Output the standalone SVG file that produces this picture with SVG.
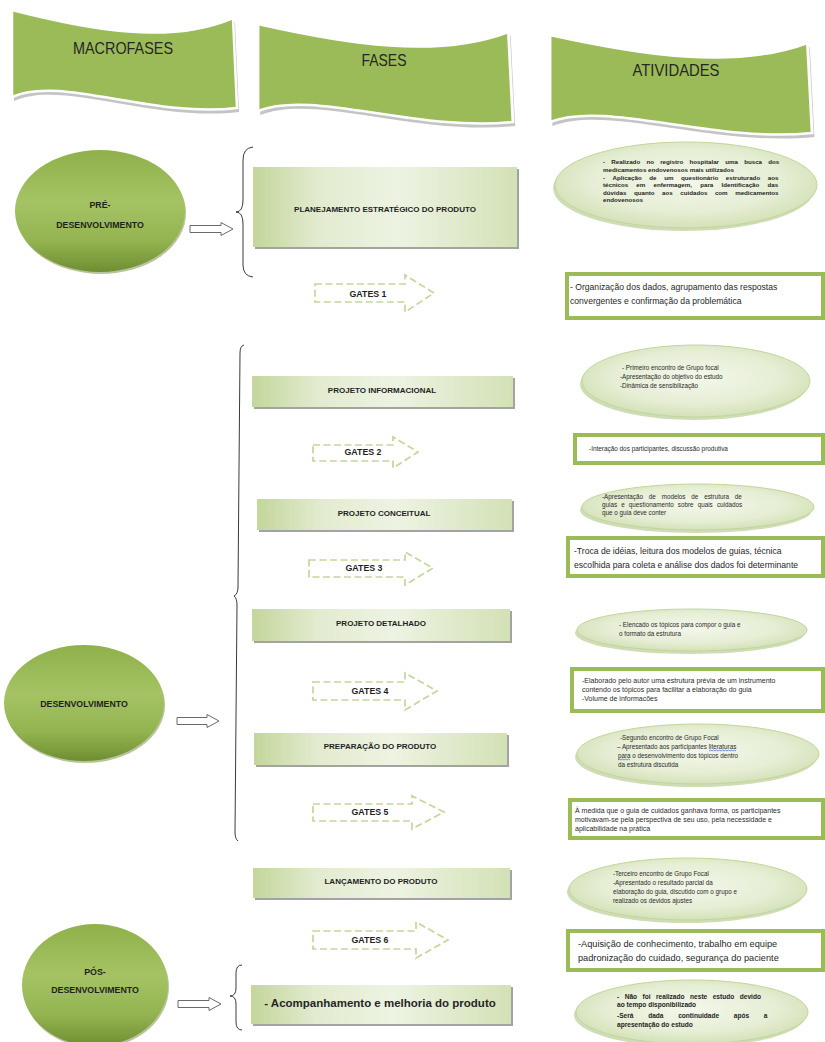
<svg xmlns="http://www.w3.org/2000/svg" xmlns:xlink="http://www.w3.org/1999/xlink" width="825" height="1042" viewBox="0 0 825 1042">
<style>
.t{font-family:"Liberation Sans",Arial,sans-serif;fill:#1f1f1f}
.hd{font-size:16.5px;text-anchor:middle;dominant-baseline:central;fill:#262626}
.ph{font-size:8px;font-weight:bold;text-anchor:middle;dominant-baseline:central}
.gt{font-size:8.8px;font-weight:bold;text-anchor:middle;dominant-baseline:central}
.mc{font-size:8.8px;font-weight:bold;text-anchor:middle;dominant-baseline:central}
.sm{font-size:6.3px;fill:#2a2a2a}
.smb{font-size:6.2px;font-weight:bold}
.smb2{font-size:6.6px;font-weight:bold}
.r1{font-size:8.6px}
.r2{font-size:6.4px;fill:#2a2a2a}
.r4{font-size:7px;fill:#2a2a2a}
.r6{font-size:9.2px}
.big{font-size:11.5px;font-weight:bold;text-anchor:middle;dominant-baseline:central;fill:#262626}
.wave{fill:#9bbb59;stroke:#ffffff;stroke-width:2.5}
.waves{fill:#c4c4c4}
.pb{fill:url(#gPhase)}
.pbs{fill:#a3a3a3}
.gate{fill:#ffffff;stroke:#c3d69b;stroke-width:1.7;stroke-dasharray:7 3.5}
.ar{fill:#ffffff;stroke:#9bbb59;stroke-width:4}
.ae{fill:url(#gAct);stroke:#c2d69a;stroke-width:1}
.aes{fill:#a8c17a;opacity:.55}
.me{fill:url(#gMacro)}
.mes{fill:#5f7c27;opacity:.45}
.ba{fill:#ffffff;stroke:#595959;stroke-width:0.9}
.br{fill:none;stroke:#3a3a3a;stroke-width:1}
.sp{fill:none;stroke:#3b5bdb;stroke-width:0.7}
</style>
<defs>
<path id="wave" d="M0,0 C78,20 158,35 221,8 L225,98 C138,108 48,65 0,87 Z"/>
<linearGradient id="gPhase" x1="0" y1="0" x2="1" y2="0">
<stop offset="0" stop-color="#c3d69b"/>
<stop offset="0.25" stop-color="#e2ebcf"/>
<stop offset="0.55" stop-color="#edf3e2"/>
<stop offset="1" stop-color="#d3e1b6"/>
</linearGradient>
<linearGradient id="gMacro" x1="0" y1="0" x2="0" y2="1">
<stop offset="0" stop-color="#8fb04a"/>
<stop offset="0.42" stop-color="#a5c364"/>
<stop offset="0.75" stop-color="#93b350"/>
<stop offset="1" stop-color="#6e8e32"/>
</linearGradient>
<radialGradient id="gAct" cx="0.5" cy="0.45" r="0.6">
<stop offset="0" stop-color="#f3f7ea"/>
<stop offset="0.6" stop-color="#e6eed5"/>
<stop offset="1" stop-color="#cfdeb0"/>
</radialGradient>
</defs>
<rect width="825" height="1042" fill="#ffffff"/>

<!-- headers -->
<g id="hdr-macrofases">
<g transform="translate(12,10)"><use xlink:href="#wave" class="waves" transform="translate(2,4)"/><use xlink:href="#wave" class="wave"/></g>
<text class="t hd" x="123" y="48" textLength="100" lengthAdjust="spacingAndGlyphs">MACROFASES</text>
</g>
<g id="hdr-fases">
<g transform="translate(258,24) scale(1.133,1)"><use xlink:href="#wave" class="waves" transform="translate(2,4)"/><use xlink:href="#wave" class="wave"/></g>
<text class="t hd" x="384" y="60" textLength="45" lengthAdjust="spacingAndGlyphs">FASES</text>
</g>
<g id="hdr-atividades">
<g transform="translate(550,35) scale(1.165,1)"><use xlink:href="#wave" class="waves" transform="translate(2,4)"/><use xlink:href="#wave" class="wave"/></g>
<text class="t hd" x="676" y="70" textLength="87" lengthAdjust="spacingAndGlyphs">ATIVIDADES</text>
</g>

<!-- macrofases -->
<g id="macro-pre">
<ellipse class="mes" cx="101" cy="213" rx="85" ry="61"/>
<ellipse class="me" cx="100" cy="211" rx="85" ry="61"/>
<text class="t mc" x="100" y="205">PRÉ-</text>
<text class="t mc" x="100" y="225">DESENVOLVIMENTO</text>
</g>
<g id="macro-dev">
<ellipse class="mes" cx="85" cy="705" rx="80" ry="58"/>
<ellipse class="me" cx="84" cy="703" rx="80" ry="58"/>
<text class="t mc" x="84" y="704">DESENVOLVIMENTO</text>
</g>
<g id="macro-pos">
<ellipse class="mes" cx="96" cy="987" rx="73" ry="61"/>
<ellipse class="me" cx="95" cy="985" rx="73" ry="61"/>
<text class="t mc" x="95" y="972">PÓS-</text>
<text class="t mc" x="95" y="990">DESENVOLVIMENTO</text>
</g>

<!-- connectors -->
<g id="connectors">
<polygon class="ba" points="190,225.5 221,225.5 221,222.5 233,229 221,235.5 221,232.5 190,232.5"/>
<polygon class="ba" points="177,717.5 207,717.5 207,714.5 219,721 207,727.5 207,724.5 177,724.5"/>
<polygon class="ba" points="178,1000.5 209,1000.5 209,997.5 221,1004 209,1010.5 209,1007.5 178,1007.5"/>
<path class="br" d="M253,147 Q243,148 243,160 L243,200 Q243,212 236,212 Q243,212 243,224 L243,265 Q243,276 253,277"/>
<path class="br" d="M244,345 Q240,346 240,353 L238,587 Q238,594 234,596 Q237,598 237,605 L235,832 Q235,839 238,841"/>
<path class="br" d="M242,965 Q236,965 236,973 L236,988 Q236,996 230,996 Q236,996 236,1004 L236,1022 Q236,1030 242,1030"/>
</g>

<!-- phases -->
<g id="phase-planejamento">
<rect class="pbs" x="255" y="169" width="264" height="80"/>
<rect class="pb" x="253" y="167" width="264" height="80"/>
<text class="t ph" x="385" y="209">PLANEJAMENTO ESTRATÉGICO DO PRODUTO</text>
</g>
<g id="phase-informacional">
<rect class="pbs" x="254" y="378" width="261" height="31"/>
<rect class="pb" x="252" y="376" width="261" height="31"/>
<text class="t ph" x="382" y="390">PROJETO INFORMACIONAL</text>
</g>
<g id="phase-conceitual">
<rect class="pbs" x="259" y="501" width="255" height="31"/>
<rect class="pb" x="257" y="499" width="255" height="31"/>
<text class="t ph" x="384" y="513">PROJETO CONCEITUAL</text>
</g>
<g id="phase-detalhado">
<rect class="pbs" x="254" y="611" width="258" height="32"/>
<rect class="pb" x="252" y="609" width="258" height="32"/>
<text class="t ph" x="381" y="623">PROJETO DETALHADO</text>
</g>
<g id="phase-preparacao">
<rect class="pbs" x="256" y="735" width="253" height="32"/>
<rect class="pb" x="254" y="733" width="253" height="32"/>
<text class="t ph" x="380" y="746">PREPARAÇÃO DO PRODUTO</text>
</g>
<g id="phase-lancamento">
<rect class="pbs" x="255" y="870" width="257" height="30"/>
<rect class="pb" x="253" y="868" width="257" height="30"/>
<text class="t ph" x="381" y="881">LANÇAMENTO DO PRODUTO</text>
</g>
<g id="phase-acompanhamento">
<rect class="pbs" x="253" y="987" width="260" height="39"/>
<rect class="pb" x="251" y="985" width="260" height="39"/>
<text class="t big" x="380" y="1003">- Acompanhamento e melhoria do produto</text>
</g>

<!-- gates -->
<g id="gate-1">
<polygon class="gate" points="315,284 405,284 405,275 434,293 405,312 405,302 315,302"/>
<text class="t gt" x="368" y="294">GATES 1</text>
</g>
<g id="gate-2">
<polygon class="gate" points="313,445 393,445 393,437 418,452 393,468 393,461 313,461"/>
<text class="t gt" x="363" y="452">GATES 2</text>
</g>
<g id="gate-3">
<polygon class="gate" points="309,560 405,560 405,552 433,568 405,585 405,577 309,577"/>
<text class="t gt" x="364" y="568">GATES 3</text>
</g>
<g id="gate-4">
<polygon class="gate" points="313,682 405,682 405,673 437,691 405,710 405,700 313,700"/>
<text class="t gt" x="370" y="691">GATES 4</text>
</g>
<g id="gate-5">
<polygon class="gate" points="313,804 412,804 412,796 444,812 412,829 412,821 313,821"/>
<text class="t gt" x="370" y="812">GATES 5</text>
</g>
<g id="gate-6">
<polygon class="gate" points="313,931 416,931 416,922 448,940 416,958 416,949 313,949"/>
<text class="t gt" x="370" y="940">GATES 6</text>
</g>

<!-- activities -->
<g id="act-1">
<ellipse class="aes" cx="684" cy="188" rx="131" ry="43"/>
<ellipse class="ae" cx="686" cy="185" rx="131" ry="43"/>
<text class="t smb" x="603" y="164" word-spacing="4.5">- Realizado no registro hospitalar uma busca dos</text>
<text class="t smb" x="603" y="171.5">medicamentos endovenosos mais utilizados</text>
<text class="t smb" x="603" y="179.5" word-spacing="5.9">- Aplicação de um questionário estruturado aos</text>
<text class="t smb" x="603" y="187" word-spacing="6.5">técnicos em enfermagem, para Identificação das</text>
<text class="t smb" x="603" y="194.5" word-spacing="5.8">dúvidas quanto aos cuidados com medicamentos</text>
<text class="t smb" x="603" y="202">endovenosos</text>
</g>
<g id="act-gate-1">
<rect class="ar" x="567" y="274" width="256" height="44"/>
<text class="t r1" x="570" y="290">- Organização dos dados, agrupamento das respostas</text>
<text class="t r1" x="570" y="304">convergentes e confirmação da problemática</text>
</g>
<g id="act-2">
<ellipse class="aes" cx="694" cy="384" rx="114" ry="36"/>
<ellipse class="ae" cx="696" cy="381" rx="114" ry="36"/>
<text class="t sm" x="622" y="370">- Primeiro encontro de Grupo focal</text>
<text class="t sm" x="620" y="379">-Apresentação do objetivo do estudo</text>
<text class="t sm" x="620" y="388">-Dinâmica de sensibilização</text>
</g>
<g id="act-gate-2">
<rect class="ar" x="575" y="435" width="248" height="28"/>
<text class="t r2" x="589" y="451">-Interação dos participantes, discussão produtiva</text>
</g>
<g id="act-3">
<ellipse class="aes" cx="696" cy="510" rx="116" ry="23"/>
<ellipse class="ae" cx="698" cy="507" rx="116" ry="23"/>
<text class="t sm" x="602" y="499" word-spacing="4.1">-Apresentação de modelos de estrutura de</text>
<text class="t sm" x="602" y="507" word-spacing="2.4">guias e questionamento sobre quais cuidados</text>
<text class="t sm" x="602" y="515">que o guia deve conter</text>
</g>
<g id="act-gate-3">
<rect class="ar" x="568" y="538" width="255" height="38"/>
<text class="t r1" x="574" y="554">-Troca de idéias, leitura dos modelos de guias, técnica</text>
<text class="t r1" x="574" y="568">escolhida para coleta e análise dos dados foi determinante</text>
</g>
<g id="act-4">
<ellipse class="aes" cx="690" cy="633" rx="115" ry="21"/>
<ellipse class="ae" cx="692" cy="630" rx="115" ry="21"/>
<text class="t sm" x="619" y="627">- Elencado os tópicos para compor o guia e</text>
<text class="t sm" x="619" y="636">o formato da estrutura</text>
</g>
<g id="act-gate-4">
<rect class="ar" x="572" y="669" width="251" height="42"/>
<text class="t r4" x="582" y="683">-Elaborado pelo autor uma estrutura prévia de um instrumento</text>
<text class="t r4" x="582" y="692">contendo os tópicos para facilitar a elaboração do guia</text>
<text class="t r4" x="582" y="701">-Volume de informacões</text>
</g>
<g id="act-5">
<ellipse class="aes" cx="696" cy="757" rx="121" ry="30"/>
<ellipse class="ae" cx="698" cy="754" rx="121" ry="30"/>
<text class="t sm" x="620" y="740">-Segundo encontro de Grupo Focal</text>
<text class="t sm" x="617" y="749">– Apresentado aos participantes literaturas</text>
<text class="t sm" x="618" y="758">para o desenvolvimento dos tópicos dentro</text>
<text class="t sm" x="618" y="767">da estrutura discutida</text>
<path class="sp" d="M709,751 l1.5,-1 l1.5,1 l1.5,-1 l1.5,1 l1.5,-1 l1.5,1 l1.5,-1 l1.5,1 l1.5,-1 l1.5,1 l1.5,-1 l1.5,1 l1.5,-1 l1.5,1 l1.5,-1 l1.5,1 l1.5,-1 l1.5,1"/>
<path class="sp" d="M618,760 l1.5,-1 l1.5,1 l1.5,-1 l1.5,1 l1.5,-1 l1.5,1 l1.5,-1 l1.5,1"/>
</g>
<g id="act-gate-5">
<rect class="ar" x="570" y="800" width="253" height="38"/>
<text class="t r4" x="575" y="813">À medida que o guia de cuidados ganhava forma, os participantes</text>
<text class="t r4" x="575" y="822">motivavam-se pela perspectiva de seu uso, pela necessidade e</text>
<text class="t r4" x="575" y="831">aplicabilidade na prática</text>
</g>
<g id="act-6">
<ellipse class="aes" cx="686" cy="892" rx="119" ry="31"/>
<ellipse class="ae" cx="688" cy="889" rx="119" ry="31"/>
<text class="t sm" x="613" y="876">-Terceiro encontro de Grupo Focal</text>
<text class="t sm" x="613" y="885">-Apresentado o resultado parcial da</text>
<text class="t sm" x="613" y="894">elaboração do guia, discutido com o grupo e</text>
<text class="t sm" x="613" y="903">realizado os devidos ajustes</text>
</g>
<g id="act-gate-6">
<rect class="ar" x="568" y="931" width="255" height="39"/>
<text class="t r6" x="578" y="947">-Aquisição de conhecimento, trabalho em equipe</text>
<text class="t r6" x="578" y="961">padronização do cuidado, segurança do paciente</text>
</g>
<g id="act-7">
<ellipse class="aes" cx="690" cy="1015" rx="116" ry="32"/>
<ellipse class="ae" cx="692" cy="1012" rx="116" ry="32"/>
<text class="t smb2" x="617" y="999" word-spacing="3.6">- Não foi realizado neste estudo devido</text>
<text class="t smb2" x="617" y="1007">ao tempo disponibilizado</text>
<text class="t smb2" x="617" y="1018" word-spacing="12.8">-Será dada continuidade após a</text>
<text class="t smb2" x="617" y="1027">apresentação do estudo</text>
</g>
</svg>
